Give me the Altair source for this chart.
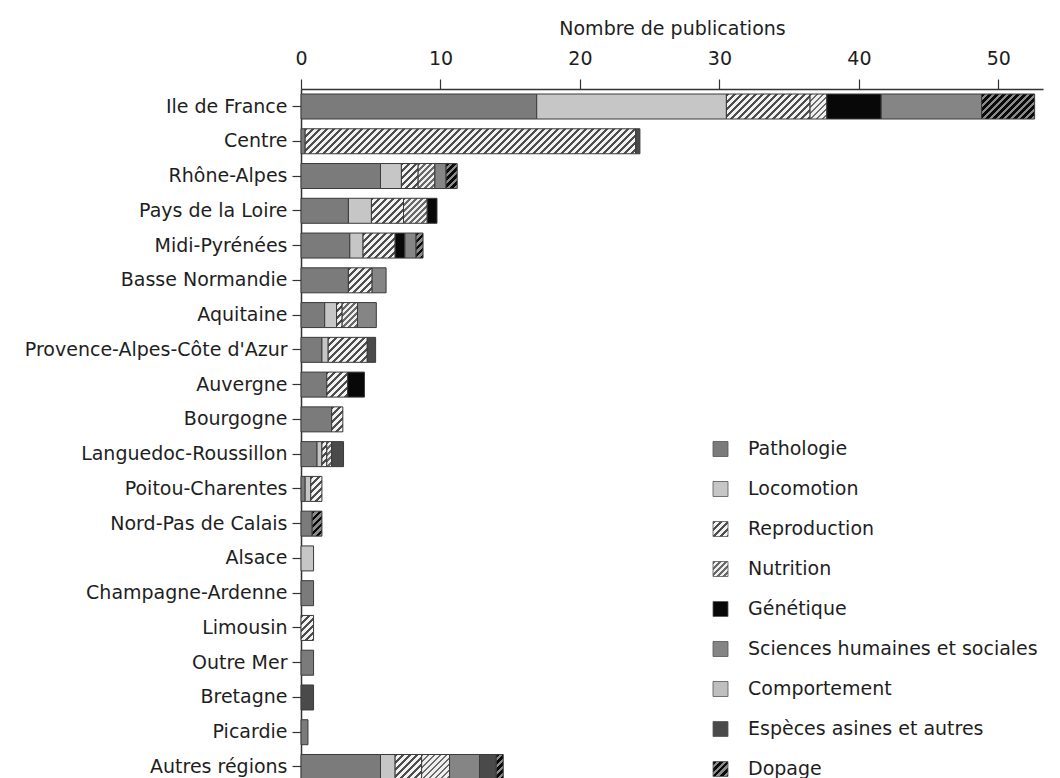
import altair as alt

regions = ["Ile de France", "Centre", "Rhône-Alpes", "Pays de la Loire", "Midi-Pyrénées",
           "Basse Normandie", "Aquitaine", "Provence-Alpes-Côte d'Azur", "Auvergne", "Bourgogne",
           "Languedoc-Roussillon", "Poitou-Charentes", "Nord-Pas de Calais", "Alsace",
           "Champagne-Ardenne", "Limousin", "Outre Mer", "Bretagne", "Picardie", "Autres régions"]

themes = ["Pathologie", "Locomotion", "Reproduction", "Nutrition", "Génétique",
          "Sciences humaines et sociales", "Comportement", "Espèces asines et autres", "Dopage"]

pathologie   = [16.9, 0.3, 5.7, 3.4, 3.5, 3.4, 1.7, 1.5, 1.85, 2.2, 1.15, 0.3, 0.8, 0, 0.9, 0, 0.9, 0, 0.5, 5.7]
locomotion   = [13.6, 0, 1.5, 1.65, 0.95, 0, 0.85, 0.45, 0, 0, 0.35, 0.4, 0, 0.9, 0, 0, 0, 0, 0, 1.05]
reproduction = [6.0, 23.7, 1.2, 2.3, 2.3, 1.7, 0.4, 2.8, 1.5, 0.8, 0.35, 0.8, 0, 0, 0, 0.9, 0, 0, 0, 1.9]
nutrition    = [1.2, 0, 1.2, 1.7, 0, 0, 1.1, 0, 0, 0, 0.35, 0, 0, 0, 0, 0, 0, 0, 0, 2.0]
genetique    = [3.9, 0, 0, 0.7, 0.7, 0, 0, 0, 1.2, 0, 0, 0, 0, 0, 0, 0, 0, 0, 0, 0]
shs          = [7.2, 0, 0.8, 0, 0.8, 1.0, 1.35, 0, 0, 0, 0, 0, 0, 0, 0, 0, 0, 0, 0, 2.15]
comportement = [0, 0, 0, 0, 0, 0, 0, 0, 0, 0, 0, 0, 0, 0, 0, 0, 0, 0, 0, 0]
especes      = [0, 0.3, 0, 0, 0, 0, 0, 0.6, 0, 0, 0.85, 0, 0, 0, 0, 0, 0, 0.9, 0, 1.2]
dopage       = [3.8, 0, 0.8, 0, 0.5, 0, 0, 0, 0, 0, 0, 0, 0.7, 0, 0, 0, 0, 0, 0, 0.5]

series = [pathologie, locomotion, reproduction, nutrition, genetique, shs, comportement, especes, dopage]
x_ticks = [0, 10, 20, 30, 40, 50]

# ---- layout / style constants ----
XMAX = 53.2
W = 742
H_VIEW = 689
BAR_H = 25.0
FONT = "DejaVu Sans"
TXT = "#1e1e1e"
LINE = "#333333"


def hatch(w, h, bg, fg, period, lw):
    L = w + h
    stops = []
    pos = 0.0
    while pos < L:
        a = pos / L
        b = min((pos + lw) / L, 1.0)
        c = min((pos + period) / L, 1.0)
        stops += [{"offset": round(a, 5), "color": fg}, {"offset": round(b, 5), "color": fg},
                  {"offset": round(b, 5), "color": bg}, {"offset": round(c, 5), "color": bg}]
        pos += period
    d = w * w + h * h
    return {"gradient": "linear", "x1": 0, "y1": 0,
            "x2": round(L * w / d, 5), "y2": round(L * h / d, 5), "stops": stops}


solid = {
    "Pathologie": "#7b7b7b",
    "Locomotion": "#c6c6c6",
    "Génétique": "#080808",
    "Sciences humaines et sociales": "#858585",
    "Comportement": "#bfbfbf",
    "Espèces asines et autres": "#4a4a4a",
}
hatched = {
    "Reproduction": ("#f2f2f2", "#4d4d4d", 7.0, 3.0),
    "Nutrition": ("#efefef", "#6a6a6a", 6.0, 2.6),
    "Dopage": ("#8a8a8a", "#0a0a0a", 7.0, 3.5),
}


def style_for(theme, w, h):
    if theme in hatched:
        bg, fg, p, lw = hatched[theme]
        return hatch(w, h, bg, fg, p, lw)
    return solid[theme]


px_per_unit = W / XMAX
rows = []
for k, (theme, vals) in enumerate(zip(themes, series)):
    for region, v in zip(regions, vals):
        if v > 0:
            rows.append({"region": region, "theme": theme, "n": v, "k": k,
                         "style": style_for(theme, v * px_per_unit, BAR_H)})

legend_rows = [{"theme": t, "style": style_for(t, 15, 15)} for t in themes]

bars = alt.Chart(alt.Data(values=rows)).mark_bar(stroke="#3a3a3a", strokeWidth=1).encode(
    x=alt.X("n:Q", stack="zero",
            scale=alt.Scale(domain=[0, XMAX], nice=False),
            axis=alt.Axis(orient="top", values=x_ticks, grid=False, tickSize=10,
                          labelPadding=21, labelBaseline="middle", labelFlush=False,
                          labelFont=FONT, labelFontSize=19, labelColor=TXT,
                          title="Nombre de publications", titleFont=FONT, titleFontSize=19,
                          titleFontWeight="normal", titleColor=TXT, titleY=-61,
                          titleBaseline="middle",
                          domainColor=LINE, domainWidth=1.5, tickColor=LINE, tickWidth=1.2)),
    y=alt.Y("region:N", sort=regions,
            scale=alt.Scale(range=[0, 695.5], paddingInner=0.281, paddingOuter=0.144),
            axis=alt.Axis(title=None, tickSize=9, labelPadding=5, labelLimit=400,
                          labelFont=FONT, labelFontSize=19, labelColor=TXT,
                          domainColor=LINE, domainWidth=1.5, tickColor=LINE, tickWidth=1.2)),
    fill=alt.Fill("style:N", scale=None),
    order=alt.Order("k:Q"),
)

leg_y = alt.Y("theme:N", sort=themes,
              scale=alt.Scale(type="point", domain=themes, range=[360, 680], padding=0),
              axis=None)

leg_sq = alt.Chart(alt.Data(values=legend_rows)).mark_square(
    size=225, stroke="#555555", strokeWidth=0.8, opacity=1
).encode(
    x=alt.value(419.5),
    y=leg_y,
    fill=alt.Fill("style:N", scale=None),
)

leg_txt = alt.Chart(alt.Data(values=legend_rows)).mark_text(
    align="left", baseline="middle", font=FONT, fontSize=19, color=TXT
).encode(
    x=alt.value(447),
    y=leg_y,
    text="theme:N",
)

chart = alt.layer(bars, leg_sq, leg_txt).resolve_scale(y="independent").properties(
    width=W, height=H_VIEW,
    autosize=alt.AutoSizeParams(type="none"),
    padding={"left": 293, "top": 81, "right": 7, "bottom": 0},
    background="white",
).configure_view(stroke=None)

chart.save("out.html", embed_options={"renderer": "svg", "actions": False})
